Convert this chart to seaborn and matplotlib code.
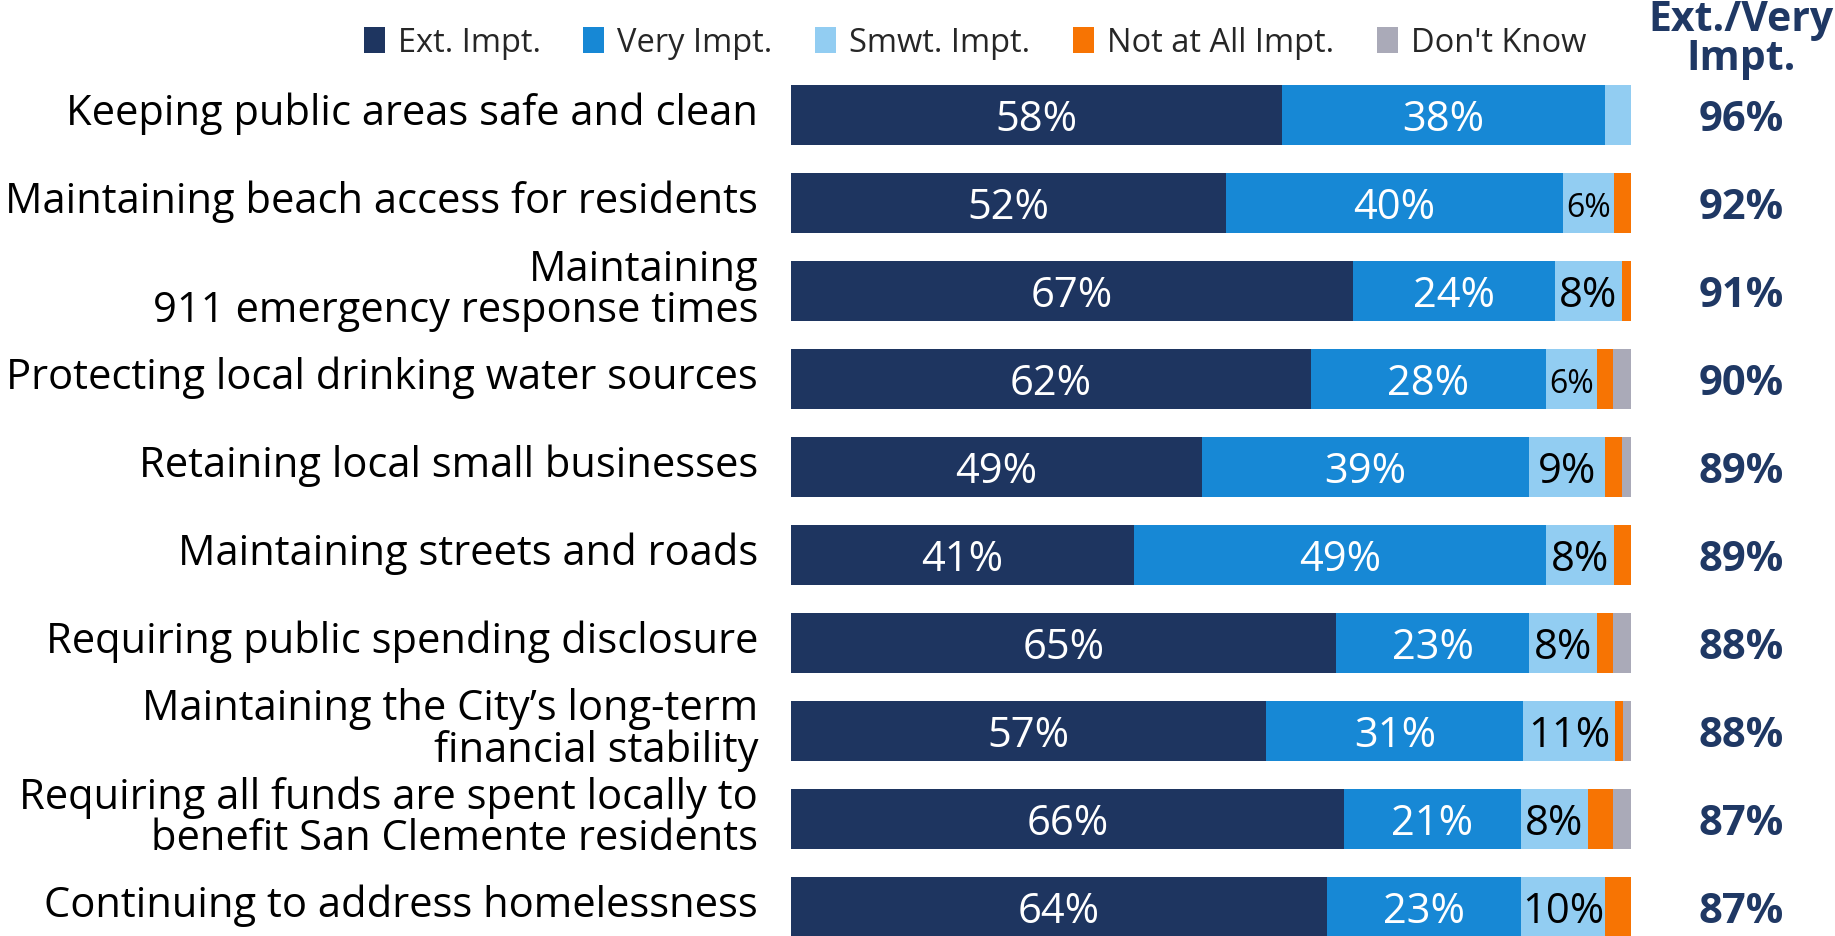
import matplotlib
matplotlib.use("Agg")
import matplotlib.pyplot as plt
import seaborn as sns
import pandas as pd
import numpy as np
from matplotlib.patches import Patch

categories = [
    "Keeping public areas safe and clean",
    "Maintaining beach access for residents",
    "Maintaining\n911 emergency response times",
    "Protecting local drinking water sources",
    "Retaining local small businesses",
    "Maintaining streets and roads",
    "Requiring public spending disclosure",
    "Maintaining the City\u2019s long-term\nfinancial stability",
    "Requiring all funds are spent locally to\nbenefit San Clemente residents",
    "Continuing to address homelessness",
]
series_names = ["Ext. Impt.", "Very Impt.", "Smwt. Impt.", "Not at All Impt.", "Don't Know"]
ext_impt = [58.4, 51.8, 66.9, 61.9, 48.9, 40.8, 64.9, 56.6, 65.8, 63.8]
very_impt = [38.5, 40.1, 24.0, 28.0, 39.0, 49.1, 23.0, 30.6, 21.1, 23.1]
smwt_impt = [3.1, 6.1, 8.0, 6.0, 9.0, 8.1, 8.0, 10.9, 8.0, 10.0]
not_at_all = [0.0, 2.0, 1.1, 2.0, 2.0, 2.0, 2.0, 0.9, 3.0, 3.1]
dont_know = [0.0, 0.0, 0.0, 2.1, 1.1, 0.0, 2.1, 1.0, 2.1, 0.0]
ext_very_total = ["96%", "92%", "91%", "90%", "89%", "89%", "88%", "88%", "87%", "87%"]

colors = ["#1E3560", "#1788D5", "#92CDF2", "#F77403", "#AAAAB8"]
navy = "#1F3864"

sns.set_theme(style="white")
plt.rcParams["font.family"] = ["Open Sans", "DejaVu Sans"]

fig = plt.figure(figsize=(18.35, 9.37), dpi=100)
ax = fig.add_axes([791 / 1835, 0.0, 840 / 1835, (937 - 72) / 937])

series = [ext_impt, very_impt, smwt_impt, not_at_all, dont_know]
cum = np.cumsum(np.array(series, dtype=float), axis=0)

# draw cumulative bars from last to first so earlier segments sit on top
for k in range(len(series) - 1, -1, -1):
    df = pd.DataFrame({"cat": categories, "val": cum[k]})
    sns.barplot(data=df, x="val", y="cat", orient="h", color=colors[k],
                saturation=1, width=0.69, ax=ax, edgecolor="none")

ax.set_xlim(0, 100)
ax.set_ylim(9.33, -0.5)

# segment labels
text_colors = ["white", "white", "black"]
for k in range(3):
    for i, v in enumerate(series[k]):
        if v < 5:
            continue
        start = cum[k][i] - v
        size = 23 if v < 7 else 30
        ax.text(start + v / 2, i + 0.05, f"{round(v):d}%", ha="center", va="center",
                color=text_colors[k], fontsize=size)

# category labels
ytrans = ax.get_yaxis_transform()
for i, c in enumerate(categories):
    ax.text(-33 / 840, i - 0.02, c, transform=ytrans, ha="right", va="center",
            fontsize=30, color="black", linespacing=0.98, multialignment="right")

# right-hand totals
for i, t in enumerate(ext_very_total):
    ax.text(1.131, i + 0.05, t, transform=ytrans, ha="center", va="center",
            color=navy, fontsize=30, fontweight="bold")
fig.text(1741 / 1835, 1 - 40 / 937, "Ext./Very\nImpt.", ha="center", va="center",
         color=navy, fontsize=29.5, fontweight="bold", linespacing=0.92)

ax.set_xlabel("")
ax.set_ylabel("")
ax.set_xticks([])
ax.set_yticks([])
for s in ax.spines.values():
    s.set_visible(False)

handles = [Patch(facecolor=c, edgecolor="none") for c in colors]
fig.legend(handles, series_names, loc="center", bbox_to_anchor=(975 / 1835, 1 - 44 / 937),
           ncol=5, frameon=False, fontsize=23.5, handlelength=0.65, handleheight=0.85,
           handletextpad=0.4, columnspacing=1.3)

fig.savefig("out.png", dpi=100)
